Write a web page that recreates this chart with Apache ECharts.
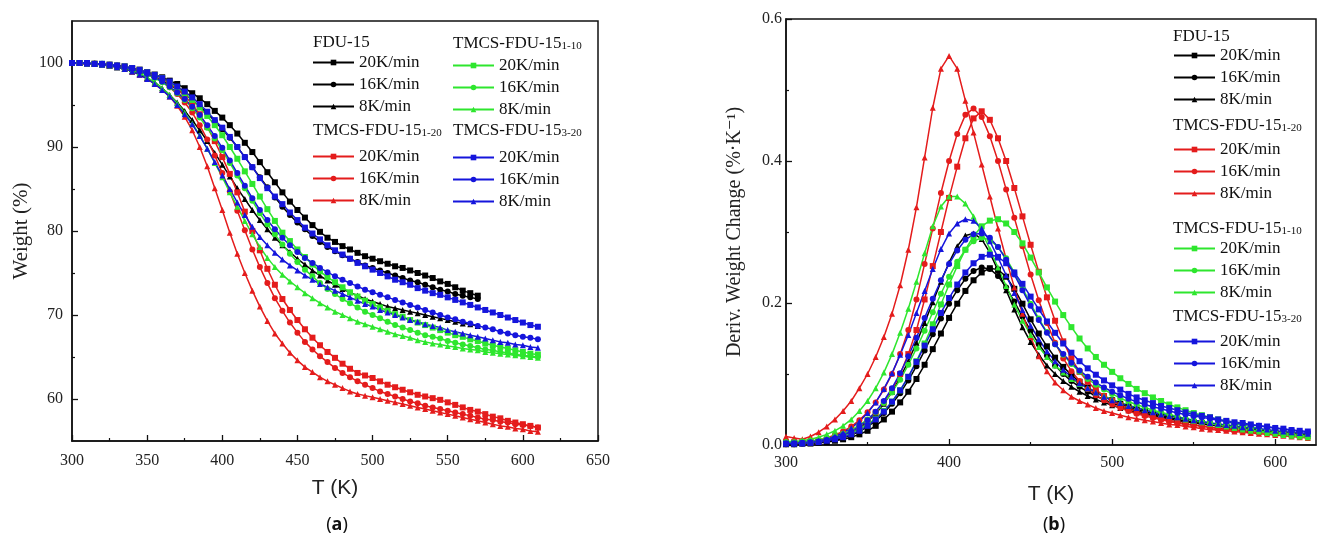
<!DOCTYPE html>
<html>
<head>
<meta charset="utf-8">
<script src="https://cdn.jsdelivr.net/npm/echarts@6/dist/echarts.min.js"></script>
<style>
  html, body { margin: 0; padding: 0; background: #fff; }
  #chart { width: 1319px; height: 543px; }
</style>
</head>
<body>
<div id="chart"></div>
<script>
// ---- (a) TG: temperature (K) and weight (%) ----
const T_A = [300,305,310,315,320,325,330,335,340,345,350,355,360,365,370,375,380,385,390,395,
  400,405,410,415,420,425,430,435,440,445,450,455,460,465,470,475,480,485,490,495,
  500,505,510,515,520,525,530,535,540,545,550,555,560,565,570,575,580,585,590,595,
  600,605,610];

const fdu20_a = [100,100,99.9,99.9,99.8,99.7,99.6,99.5,99.3,99.1,
  98.9,98.6,98.3,97.9,97.5,97.0,96.4,95.8,95.1,94.3,
  93.5,92.6,91.6,90.5,89.4,88.2,87.0,85.8,84.6,83.5,
  82.5,81.6,80.7,79.9,79.2,78.7,78.2,77.8,77.4,77.0,
  76.7,76.4,76.1,75.8,75.6,75.3,75.0,74.7,74.4,74.0,
  73.7,73.3,72.9,72.6,72.3];
const fdu16_a = [100,100,99.9,99.9,99.8,99.7,99.6,99.4,99.2,99.0,
  98.7,98.3,97.9,97.4,96.9,96.3,95.6,94.8,94.0,93.1,
  92.1,91.1,90.0,88.8,87.6,86.4,85.2,84.0,82.9,81.9,
  81.0,80.2,79.4,78.7,78.1,77.6,77.1,76.7,76.3,75.9,
  75.6,75.3,75.0,74.7,74.4,74.1,73.9,73.6,73.3,73.0,
  72.8,72.5,72.3,72.1,71.9];
const fdu8_a = [100,100,99.9,99.9,99.8,99.7,99.5,99.3,99.0,98.7,
  98.2,97.7,97.0,96.2,95.3,94.3,93.2,92.0,90.7,89.3,
  87.9,86.5,85.1,83.8,82.5,81.3,80.2,79.2,78.3,77.5,
  76.7,76.0,75.3,74.7,74.1,73.6,73.1,72.7,72.3,71.9,
  71.6,71.3,71.0,70.8,70.6,70.4,70.2,70.0,69.8,69.6,
  69.4,69.2,69.0,68.9,68.7];

const r20_a = [100,100,99.9,99.9,99.8,99.8,99.7,99.6,99.4,99.2,
  98.9,98.6,98.1,97.6,96.9,96.1,95.1,93.9,92.4,90.7,
  88.8,86.8,84.6,82.3,80.0,77.7,75.5,73.6,71.9,70.6,
  69.4,68.3,67.3,66.4,65.6,64.9,64.2,63.6,63.1,62.8,
  62.5,62.1,61.7,61.4,61.1,60.8,60.5,60.3,60.1,59.9,
  59.6,59.3,59.0,58.7,58.5,58.2,57.9,57.7,57.4,57.2,
  57.0,56.8,56.6];
const r16_a = [100,100,99.9,99.9,99.8,99.7,99.6,99.5,99.3,99.0,
  98.7,98.3,97.8,97.1,96.3,95.3,94.1,92.6,90.9,89.0,
  86.9,84.7,82.4,80.1,77.8,75.7,73.8,72.0,70.5,69.1,
  67.9,66.8,65.9,65.1,64.4,63.7,63.1,62.6,62.1,61.7,
  61.3,60.9,60.6,60.3,60.0,59.7,59.5,59.2,59.0,58.8,
  58.6,58.4,58.2,58.0,57.8,57.6,57.5,57.3,57.2,57.0,
  56.9,56.8,56.6];
const r8_a = [100,100,99.9,99.9,99.8,99.7,99.5,99.3,99.0,98.6,
  98.1,97.5,96.8,96.0,94.9,93.6,92.0,90.0,87.7,85.1,
  82.5,79.8,77.3,75.0,72.9,71.0,69.3,67.8,66.6,65.5,
  64.6,63.8,63.2,62.6,62.1,61.7,61.3,60.9,60.6,60.4,
  60.2,60.0,59.8,59.6,59.4,59.2,59.0,58.8,58.6,58.4,
  58.2,58.0,57.8,57.6,57.4,57.2,57.0,56.8,56.7,56.5,
  56.4,56.2,56.1];

const g20_a = [100,100,100,99.9,99.9,99.8,99.7,99.6,99.4,99.2,
  98.9,98.6,98.2,97.7,97.1,96.4,95.6,94.7,93.7,92.6,
  91.4,90.0,88.6,87.1,85.6,84.1,82.6,81.2,79.8,78.8,
  77.8,76.9,76.0,75.2,74.5,73.9,73.3,72.7,72.2,71.7,
  71.3,70.9,70.5,70.1,69.8,69.4,69.1,68.8,68.5,68.2,
  67.9,67.6,67.4,67.1,66.9,66.6,66.4,66.2,66.0,65.8,
  65.6,65.4,65.3];
const g16_a = [100,100,100,99.9,99.8,99.7,99.6,99.4,99.2,98.9,
  98.6,98.2,97.7,97.1,96.4,95.6,94.6,93.5,92.3,91.0,
  89.6,88.1,86.6,85.1,83.6,82.1,80.8,79.6,78.4,77.3,
  76.3,75.4,74.6,73.8,73.1,72.5,71.9,71.4,70.9,70.4,
  70.0,69.6,69.2,68.8,68.5,68.2,67.9,67.6,67.4,67.2,
  66.9,66.7,66.5,66.3,66.1,65.9,65.8,65.6,65.5,65.3,
  65.2,65.1,65.0];
const g8_a = [100,100,99.9,99.9,99.8,99.7,99.5,99.3,99.1,98.8,
  98.3,97.7,97.0,96.2,95.2,94.1,92.8,91.4,89.8,88.1,
  86.4,84.6,82.9,81.2,79.6,78.1,76.8,75.7,74.8,74.0,
  73.3,72.6,72.0,71.4,70.9,70.4,70.0,69.6,69.2,68.9,
  68.6,68.3,68.0,67.7,67.5,67.3,67.0,66.8,66.6,66.5,
  66.3,66.2,66.0,65.9,65.8,65.6,65.5,65.4,65.3,65.2,
  65.1,65.0,64.9];

const b20_a = [100,100,100,99.9,99.9,99.8,99.7,99.6,99.4,99.2,
  98.9,98.6,98.2,97.8,97.2,96.6,95.9,95.1,94.2,93.2,
  92.3,91.2,90.0,88.8,87.6,86.3,85.1,84.1,83.2,82.2,
  81.3,80.4,79.7,79.0,78.3,77.7,77.2,76.7,76.2,75.8,
  75.4,75.0,74.6,74.2,73.9,73.6,73.2,72.9,72.6,72.4,
  72.1,71.8,71.5,71.2,70.9,70.6,70.3,70.0,69.7,69.4,
  69.1,68.8,68.6];
const b16_a = [100,100,100,99.9,99.9,99.8,99.7,99.5,99.3,99.0,
  98.7,98.3,97.8,97.2,96.5,95.7,94.8,93.8,92.6,91.3,
  89.9,88.4,86.9,85.4,83.9,82.5,81.3,80.2,79.2,78.3,
  77.5,76.8,76.2,75.6,75.1,74.6,74.2,73.8,73.4,73.0,
  72.7,72.4,72.1,71.8,71.5,71.2,70.9,70.6,70.3,70.0,
  69.7,69.5,69.2,69.0,68.7,68.5,68.3,68.0,67.8,67.6,
  67.4,67.3,67.1];
const b8_a = [100,100,99.9,99.9,99.8,99.7,99.5,99.3,99.0,98.6,
  98.1,97.5,96.8,96.0,95.0,93.9,92.7,91.3,89.8,88.2,
  86.6,85.0,83.4,81.9,80.5,79.3,78.3,77.4,76.6,75.9,
  75.3,74.7,74.2,73.7,73.3,72.9,72.5,72.1,71.7,71.3,
  71.0,70.6,70.3,70.0,69.7,69.4,69.2,68.9,68.7,68.5,
  68.2,68.0,67.8,67.6,67.4,67.2,67.0,66.8,66.7,66.5,
  66.4,66.2,66.1];

// ---- (b) DTG: temperature (K) and deriv. weight change (%/K) ----
const T_B = [300,305,310,315,320,325,330,335,340,345,350,355,360,365,370,375,380,385,390,395,
  400,405,410,415,420,425,430,435,440,445,450,455,460,465,470,475,480,485,490,495,
  500,505,510,515,520,525,530,535,540,545,550,555,560,565,570,575,580,585,590,595,
  600,605,610,615,620];

const fdu20_b = [.001,.001,.002,.002,.003,.004,.006,.008,.011,.015,
  .020,.027,.036,.047,.060,.075,.093,.113,.135,.157,
  .179,.199,.217,.232,.243,.249,.247,.237,.220,.199,
  .177,.157,.139,.123,.110,.099,.089,.081,.074,.068,
  .063,.058,.054,.050,.047,.044,.041,.039,.036,.034,
  .032,.031,.029,.027,.026,.025,.023,.022,.021,.020,
  .019,.018,.017,.016,.015];
const fdu16_b = [.001,.001,.002,.003,.004,.005,.007,.010,.014,.019,
  .026,.034,.045,.058,.073,.091,.111,.133,.156,.178,
  .199,.218,.234,.245,.250,.248,.238,.222,.202,.181,
  .161,.142,.126,.112,.100,.090,.082,.075,.069,.064,
  .059,.055,.051,.048,.045,.042,.040,.037,.035,.033,
  .032,.030,.028,.027,.025,.024,.023,.021,.020,.019,
  .018,.017,.016,.015,.014];
const fdu8_b = [.002,.002,.003,.004,.005,.007,.009,.013,.018,.024,
  .033,.044,.058,.075,.095,.118,.144,.172,.201,.230,
  .257,.280,.295,.298,.290,.271,.246,.218,.191,.166,
  .145,.127,.112,.100,.090,.082,.075,.069,.064,.060,
  .056,.052,.049,.046,.043,.041,.039,.037,.035,.033,
  .031,.030,.028,.027,.025,.024,.023,.022,.021,.019,
  .018,.017,.016,.015,.014];

const r20_b = [.004,.004,.004,.004,.005,.007,.010,.014,.019,.026,
  .035,.046,.060,.078,.100,.128,.162,.205,.252,.300,
  .348,.392,.432,.460,.470,.458,.432,.400,.362,.322,
  .282,.244,.208,.175,.146,.122,.103,.089,.078,.069,
  .062,.056,.051,.047,.043,.040,.037,.035,.032,.030,
  .028,.027,.025,.024,.022,.021,.020,.019,.018,.017,
  .016,.015,.014,.013,.012];
const r16_b = [.005,.004,.004,.005,.007,.010,.014,.019,.026,.035,
  .046,.060,.078,.100,.128,.162,.205,.255,.305,.355,
  .400,.438,.465,.474,.462,.435,.400,.360,.320,.280,
  .240,.204,.172,.144,.122,.104,.090,.079,.070,.063,
  .057,.052,.048,.044,.041,.038,.036,.033,.031,.029,
  .028,.026,.025,.023,.022,.021,.020,.019,.018,.017,
  .016,.015,.014,.013,.012];
const r8_b = [.012,.010,.008,.012,.018,.026,.036,.048,.062,.080,
  .100,.124,.152,.185,.225,.275,.335,.405,.475,.530,
  .548,.530,.485,.440,.395,.350,.305,.262,.222,.185,
  .152,.125,.104,.088,.077,.068,.062,.057,.052,.048,
  .045,.042,.039,.037,.035,.033,.031,.029,.028,.026,
  .025,.023,.022,.021,.020,.019,.018,.017,.016,.015,
  .014,.013,.012,.011,.010];

const g20_b = [.003,.003,.004,.005,.006,.008,.010,.013,.017,.022,
  .029,.037,.048,.061,.077,.096,.118,.143,.170,.198,
  .226,.252,.275,.294,.308,.316,.318,.312,.300,.284,
  .264,.243,.222,.202,.183,.166,.150,.136,.124,.113,
  .103,.094,.086,.079,.073,.067,.062,.057,.053,.049,
  .045,.042,.039,.036,.033,.030,.028,.026,.023,.021,
  .019,.017,.016,.014,.013];
const g16_b = [.004,.004,.005,.006,.007,.009,.012,.016,.021,.028,
  .036,.046,.059,.074,.092,.113,.136,.161,.187,.213,
  .237,.258,.275,.287,.292,.289,.279,.263,.243,.221,
  .199,.178,.159,.142,.127,.114,.103,.093,.085,.078,
  .072,.066,.061,.057,.053,.049,.046,.043,.040,.037,
  .035,.033,.031,.029,.027,.025,.023,.021,.020,.018,
  .017,.015,.014,.013,.012];
const g8_b = [.005,.005,.006,.008,.011,.015,.020,.027,.036,.048,
  .062,.080,.102,.128,.158,.192,.230,.270,.308,.336,
  .350,.350,.340,.322,.300,.276,.250,.224,.198,.175,
  .155,.138,.124,.112,.102,.093,.086,.080,.074,.069,
  .064,.060,.056,.053,.050,.047,.044,.041,.039,.036,
  .034,.032,.030,.028,.026,.024,.022,.020,.019,.017,
  .016,.014,.013,.012,.011];

const b20_b = [.002,.002,.002,.003,.004,.006,.008,.011,.015,.020,
  .027,.036,.047,.061,.077,.096,.117,.140,.163,.186,
  .207,.226,.243,.256,.265,.268,.265,.256,.243,.227,
  .209,.191,.174,.158,.143,.130,.118,.108,.099,.091,
  .084,.078,.072,.067,.063,.059,.055,.052,.049,.046,
  .043,.041,.039,.036,.034,.032,.031,.029,.027,.026,
  .024,.023,.021,.020,.019];
const b16_b = [.002,.002,.003,.004,.005,.007,.010,.014,.019,.026,
  .035,.047,.062,.080,.101,.125,.151,.179,.206,.232,
  .255,.274,.289,.297,.298,.292,.279,.261,.240,.218,
  .196,.176,.158,.142,.128,.116,.105,.096,.088,.081,
  .075,.070,.065,.061,.057,.054,.051,.048,.045,.043,
  .041,.039,.037,.035,.033,.031,.030,.028,.027,.025,
  .024,.022,.021,.019,.018];
const b8_b = [.002,.002,.003,.004,.006,.008,.012,.017,.024,.033,
  .045,.060,.079,.101,.127,.155,.186,.217,.248,.276,
  .298,.312,.318,.316,.305,.287,.264,.239,.214,.190,
  .168,.149,.132,.118,.106,.096,.087,.080,.074,.068,
  .063,.059,.055,.052,.049,.046,.043,.041,.039,.037,
  .035,.033,.031,.030,.028,.027,.025,.024,.023,.022,
  .020,.019,.018,.017,.016];

const RATES = ['20K/min', '16K/min', '8K/min'];
const SYMBOLS = ['rect', 'circle', 'triangle'];
const SERIF = '"Liberation Serif", "DejaVu Serif", serif';
const SANS = '"Liberation Sans", Arial, sans-serif';

// sample groups: label, subscript, colour, (a) data, (b) data
const groups = [
  { main: 'FDU-15', sub: '', color: '#000000', a: [fdu20_a, fdu16_a, fdu8_a], b: [fdu20_b, fdu16_b, fdu8_b] },
  { main: 'TMCS-FDU-15', sub: '1-20', color: '#e41c1c', a: [r20_a, r16_a, r8_a], b: [r20_b, r16_b, r8_b] },
  { main: 'TMCS-FDU-15', sub: '1-10', color: '#2ee62e', a: [g20_a, g16_a, g8_a], b: [g20_b, g16_b, g8_b] },
  { main: 'TMCS-FDU-15', sub: '3-20', color: '#1515dc', a: [b20_a, b16_a, b8_a], b: [b20_b, b16_b, b8_b] }
];

const chart = echarts.init(document.getElementById('chart'));

function seriesName(g, i) {
  return g.main + g.sub + '|' + RATES[i];
}

const series = [];
groups.forEach(g => {
  RATES.forEach((r, i) => {
    const common = {
      name: seriesName(g, i),
      type: 'line',
      symbol: SYMBOLS[i],
      symbolSize: 6,
      lineStyle: { color: g.color, width: 1.5 },
      itemStyle: { color: g.color },
      emphasis: { disabled: true },
      animation: false
    };
    series.push({ ...common, xAxisIndex: 0, yAxisIndex: 0,
      data: g.a[i].map((v, k) => [T_A[k], v]) });
    series.push({ ...common, xAxisIndex: 1, yAxisIndex: 2,
      data: g.b[i].map((v, k) => [T_B[k], v]) });
  });
});

// legend blocks: [group index, left, top]
const legendPos = [
  [0, 312, 54], [1, 312, 148], [2, 452, 57], [3, 452, 149],
  [0, 1173, 47], [1, 1173, 141], [2, 1173, 240], [3, 1173, 333]
];
const legends = legendPos.map(([gi, left, top]) => ({
  orient: 'vertical',
  left: left,
  top: top,
  padding: 0,
  itemGap: 5,
  itemWidth: 41,
  itemHeight: 7,
  selectedMode: false,
  data: RATES.map((r, i) => seriesName(groups[gi], i)),
  formatter: n => n.split('|')[1],
  textStyle: { fontFamily: SERIF, fontSize: 17, color: '#111', padding: [0, 0, 0, 0] }
}));

// legend headers: [group index, x, y]
const headerPos = [
  [0, 313, 41], [1, 313, 129], [2, 453, 42], [3, 453, 129],
  [0, 1173, 35], [1, 1173, 124], [2, 1173, 227], [3, 1173, 315]
];
const headers = headerPos.map(([gi, x, y]) => {
  const g = groups[gi];
  return {
    type: 'text',
    x: x,
    y: y,
    style: {
      text: g.sub ? '{m|' + g.main + '}{s|' + g.sub + '}' : '{m|' + g.main + '}',
      verticalAlign: 'middle',
      rich: {
        m: { fontFamily: SERIF, fontSize: 17, fill: '#111', lineHeight: 20, verticalAlign: 'bottom' },
        s: { fontFamily: SERIF, fontSize: 11, fill: '#111', lineHeight: 6, verticalAlign: 'bottom' }
      }
    }
  };
});

const captionRich = { b: { fontFamily: '"Noto Sans", sans-serif', fontWeight: 'bold', fontSize: 18, fill: '#111' } };
const captions = [
  { type: 'text', x: 337, y: 525, style: { text: '({b|a})', align: 'center', verticalAlign: 'middle',
    font: '18px "Noto Sans", sans-serif', fill: '#111', rich: captionRich } },
  { type: 'text', x: 1054, y: 525, style: { text: '({b|b})', align: 'center', verticalAlign: 'middle',
    font: '18px "Noto Sans", sans-serif', fill: '#111', rich: captionRich } }
];

const axisLine = { show: true, lineStyle: { color: '#111', width: 1.5 } };
const tickLabel = { fontFamily: SERIF, fontSize: 16, color: '#222' };
const majorTick = { show: true, inside: true, length: 6, lineStyle: { color: '#111', width: 1.3 } };
const minorTickStyle = { color: '#111', width: 1.2 };

const option = {
  animation: false,
  backgroundColor: '#fff',
  grid: [
    { left: 72, top: 21, width: 526, height: 420, show: true, borderColor: '#111', borderWidth: 1.5 },
    { left: 786, top: 19, width: 530, height: 426, show: true, borderColor: '#111', borderWidth: 1.5 }
  ],
  xAxis: [
    {
      gridIndex: 0, type: 'value', position: 'bottom', min: 300, max: 650, interval: 50,
      name: 'T (K)', nameLocation: 'middle', nameGap: 37,
      nameTextStyle: { fontFamily: SANS, fontSize: 21, color: '#222' },
      axisLine: axisLine,
      axisTick: majorTick,
      minorTick: { show: true, splitNumber: 2, length: 3, lineStyle: minorTickStyle },
      axisLabel: { ...tickLabel, margin: 12 },
      splitLine: { show: false }
    },
    {
      gridIndex: 1, type: 'value', position: 'bottom', min: 300, max: 625,
      name: 'T (K)', nameLocation: 'middle', nameGap: 39,
      nameTextStyle: { fontFamily: SANS, fontSize: 21, color: '#222' },
      axisLine: axisLine,
      axisTick: { ...majorTick, customValues: [300, 400, 500, 600] },
      axisLabel: { ...tickLabel, margin: 10, customValues: [300, 400, 500, 600] },
      splitLine: { show: false }
    },
    {
      gridIndex: 1, type: 'value', position: 'bottom', min: 300, max: 625,
      axisLine: { show: false },
      axisTick: { show: true, inside: true, length: 3, customValues: [350, 450, 550], lineStyle: minorTickStyle },
      axisLabel: { show: false },
      splitLine: { show: false }
    }
  ],
  yAxis: [
    {
      gridIndex: 0, type: 'value', position: 'left', min: 55, max: 105,
      name: 'Weight (%)', nameLocation: 'middle', nameGap: 40,
      nameTextStyle: { fontFamily: SERIF, fontSize: 21, color: '#222' },
      axisLine: axisLine,
      axisTick: { ...majorTick, customValues: [60, 70, 80, 90, 100] },
      axisLabel: { ...tickLabel, margin: 9, customValues: [60, 70, 80, 90, 100] },
      splitLine: { show: false }
    },
    {
      gridIndex: 0, type: 'value', position: 'left', min: 55, max: 105,
      axisLine: { show: false },
      axisTick: { show: true, inside: true, length: 3, customValues: [65, 75, 85, 95], lineStyle: minorTickStyle },
      axisLabel: { show: false },
      splitLine: { show: false }
    },
    {
      gridIndex: 1, type: 'value', position: 'left', min: 0, max: 0.6, interval: 0.2,
      name: 'Deriv. Weight Change (%·K⁻¹)', nameLocation: 'middle', nameGap: 41,
      nameTextStyle: { fontFamily: SERIF, fontSize: 20, color: '#222' },
      axisLine: axisLine,
      axisTick: majorTick,
      minorTick: { show: true, splitNumber: 2, length: 3, lineStyle: minorTickStyle },
      axisLabel: { ...tickLabel, margin: 4, formatter: v => v.toFixed(1) },
      splitLine: { show: false }
    }
  ],
  legend: legends,
  graphic: headers.concat(captions),
  series: series
};

chart.setOption(option);
</script>
</body>
</html>
